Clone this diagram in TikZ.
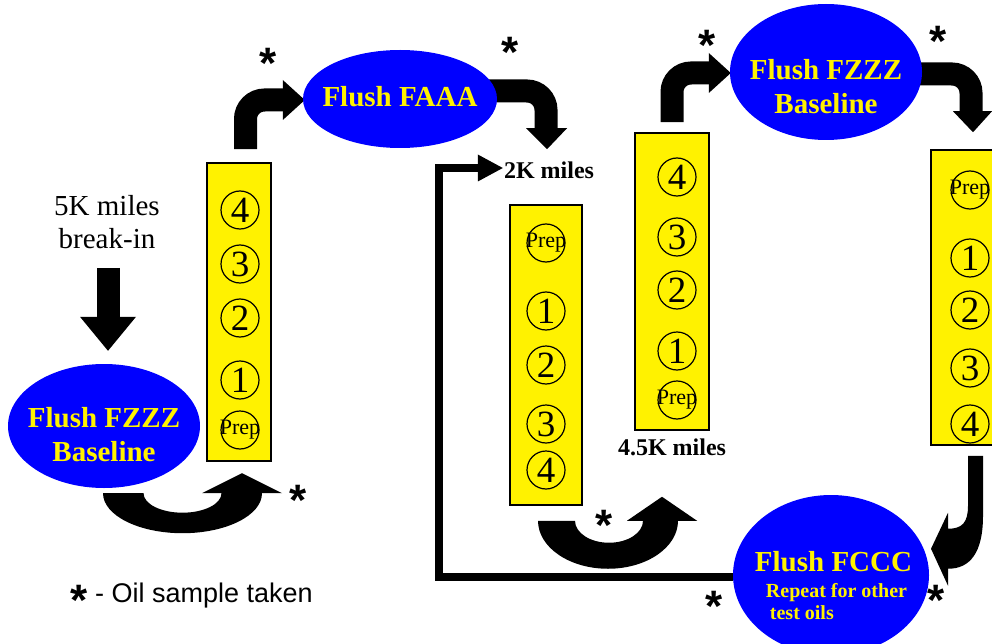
\documentclass[tikz,border=0pt]{standalone}
\usepackage{fontspec}
\setmainfont{Liberation Serif}
\setsansfont{Liberation Sans}
\usetikzlibrary{positioning,shapes.geometric,calc,backgrounds}

\newcommand{\prep}{{\fontsize{22}{22}\selectfont Prep}}

\begin{document}
\begin{tikzpicture}[
    x=1pt, y=-1pt,
    column/.style={rectangle, draw=black, line width=1.5pt, fill=yellow, inner sep=0pt},
    slot/.style={circle, draw=black, line width=1.2pt, fill=yellow, minimum size=38pt, inner sep=0pt, font=\fontsize{37}{37}\selectfont},
    flush/.style={ellipse, fill=blue, inner sep=0pt},
    flushtext/.style={text=yellow, font=\fontsize{29}{34}\selectfont\bfseries, align=center, inner sep=0pt},
    miles/.style={font=\fontsize{24}{24}\selectfont\bfseries, inner sep=0pt},
    sample/.style={font=\sffamily\bfseries\fontsize{44}{44}\selectfont, inner sep=0pt, anchor=north},
    shaft/.style={line width=23pt, rounded corners=19pt},
    ret/.style={line width=8pt}
]
\useasboundingbox (0,0) rectangle (992,644);

% Flush ellipses
\node[flush, minimum width=192pt, minimum height=124pt] (base1) at (104,426) {};
\node[flush, minimum width=194pt, minimum height=98pt] (faaa) at (400,99) {};
\node[flush, minimum width=192pt, minimum height=136pt] (base2) at (826,72) {};
\node[flush, minimum width=196pt, minimum height=160pt] (fccc) at (831,575) {};

\node[flushtext] (base1txt) at (104,435) {Flush FZZZ\\Baseline};
\node[flushtext] (faaatxt) at (400,97) {Flush FAAA};
\node[flushtext] (base2txt) at (826,87) {Flush FZZZ\\Baseline};
\node[flushtext, align=left] (fccctxt) at (839,586) {\hspace*{-11pt}Flush FCCC\\[-8pt]
    {\fontsize{20}{22}\selectfont Repeat for other}\\[-12pt]
    {\fontsize{20}{22}\selectfont\hspace*{4pt}test oils}};

% Engine columns
\node[column, minimum width=64pt, minimum height=298pt] (col1) at (239,312) {};
\node[column, minimum width=72pt, minimum height=300pt] (col2) at (546,355) {};
\node[column, minimum width=74pt, minimum height=297pt] (col3) at (672,281.5) {};
\node[column, minimum width=74pt, minimum height=295pt] (col4) at (968,297.5) {};

\foreach \t/\y [count=\i] in {4/210, 3/264, 2/318, 1/380, \prep/430}
  \node[slot] (a\i) at (240,\y) {\makebox[0pt]{\t}};
\foreach \t/\y [count=\i] in {\prep/243, 1/311, 2/365, 3/424, 4/470}
  \node[slot] (b\i) at (546,\y) {\makebox[0pt]{\t}};
\foreach \t/\y [count=\i] in {4/177, 3/237, 2/290, 1/351, \prep/400}
  \node[slot] (c\i) at (677,\y) {\makebox[0pt]{\t}};
\foreach \t/\y [count=\i] in {\prep/190, 1/258, 2/310, 3/368, 4/424}
  \node[slot] (d\i) at (970,\y) {\makebox[0pt]{\t}};

% Mileage labels
\node[align=center, inner sep=0pt, font=\fontsize{29}{33}\selectfont] (brk) at (107,222) {5K miles\\break-in};
\node[miles] (mi2k) at (549,170) {2K miles};
\node[miles] (mi45k) at (672,447) {4.5K miles};

% Block arrows behind the ellipses
\begin{scope}[on background layer]
% break-in down to baseline
\coordinate (tipe) at ($(base1.north)+(4,-13)$);
\draw[line width=23pt] ($(tipe)+(0,-83)$) -- ($(tipe)+(0,-33)$);
\fill ($(tipe)+(-28,-34)$) -- (tipe) -- ($(tipe)+(28,-34)$) -- cycle;

% baseline round to column 1
\fill[shift={(base1.south)}] (-1,5) arc[start angle=180, end angle=0, x radius=79.5, y radius=40]
  -- (178,5) -- (138,-15) -- (98,5) -- (117.5,5)
  arc[start angle=0, end angle=180, x radius=39, y radius=19.5] -- cycle;

% column 1 up to Flush FAAA
\coordinate (tipa) at ($(faaa.west)+(2,1)$);
\draw[shaft] ($(col1.north)+(6.5,-13)$) |- ($(tipa)+(-21,0)$);
\fill ($(tipa)+(-22,-20)$) -- (tipa) -- ($(tipa)+(-22,20)$) -- cycle;

% Flush FAAA down to 2K miles
\coordinate (tipb) at ($(col2.north)+(1,-55)$);
\draw[shaft] ($(faaa.east)+(-25,-8)$) -| ($(tipb)+(-1,-20)$);
\fill ($(tipb)+(-21,-21)$) -- (tipb) -- ($(tipb)+(20,-21)$) -- cycle;

% column 2 round to column 3
\fill[shift={(col2.south)}] (-8,15) arc[start angle=180, end angle=0, x radius=70, y radius=48]
  -- (151,15) -- (116,-9) -- (81,15) -- (97,15)
  arc[start angle=0, end angle=180, x radius=34, y radius=22] -- cycle;

% column 3 up to baseline
\coordinate (tipc) at ($(base2.west)+(1,1)$);
\draw[shaft] ($(col3.north)+(0,-10)$) |- ($(tipc)+(-21,0)$);
\fill ($(tipc)+(-22,-20)$) -- (tipc) -- ($(tipc)+(-22,20)$) -- cycle;

% baseline down to column 4
\coordinate (tipd) at ($(col4.north)+(5,-17)$);
\draw[shaft] ($(base2.east)+(-20,2)$) -| ($(tipd)+(-2,-20)$);
\fill ($(tipd)+(-20,-21)$) -- (tipd) -- ($(tipd)+(19,-21)$) -- cycle;

% column 4 down to Flush FCCC
\fill[shift={(col4.south)}] (0,10) -- (15,10) -- (15,70) .. controls (15,107) and (2,123) .. (-20,123)
  -- (-20,140) -- (-37,103) -- (-20,67) -- (-20,83) .. controls (-6,83) and (0,77) .. (0,60) -- cycle;

% Flush FCCC back to 2K miles
\coordinate (tipr) at ($(mi2k.west)+(-1,-2)$);
\draw[ret] ([yshift=-2pt]fccc.west) -| ($(tipr)+(-64,0)$) -- ($(tipr)+(-24,0)$);
\fill ($(tipr)+(-25,-13.5)$) -- (tipr) -- ($(tipr)+(-25,13.5)$) -- cycle;
\end{scope}

% Oil samples
\node[sample] (oil1) at (268,48) {*};
\node[sample] (oil2) at (510,37) {*};
\node[sample] (oil3) at (707,30) {*};
\node[sample] (oil4) at (938,26) {*};
\node[sample] (oil5) at (298,485) {*};
\node[sample] (oil6) at (604,510) {*};
\node[sample] (oil7) at (714,591) {*};
\node[sample] (oil8) at (936,585) {*};
\node[sample] (oil9) at (79,585) {*};
\node[font=\sffamily\fontsize{27}{27}\selectfont, anchor=base west, inner sep=0pt] (legend) at (95,602) {- Oil sample taken};

\end{tikzpicture}
\end{document}
